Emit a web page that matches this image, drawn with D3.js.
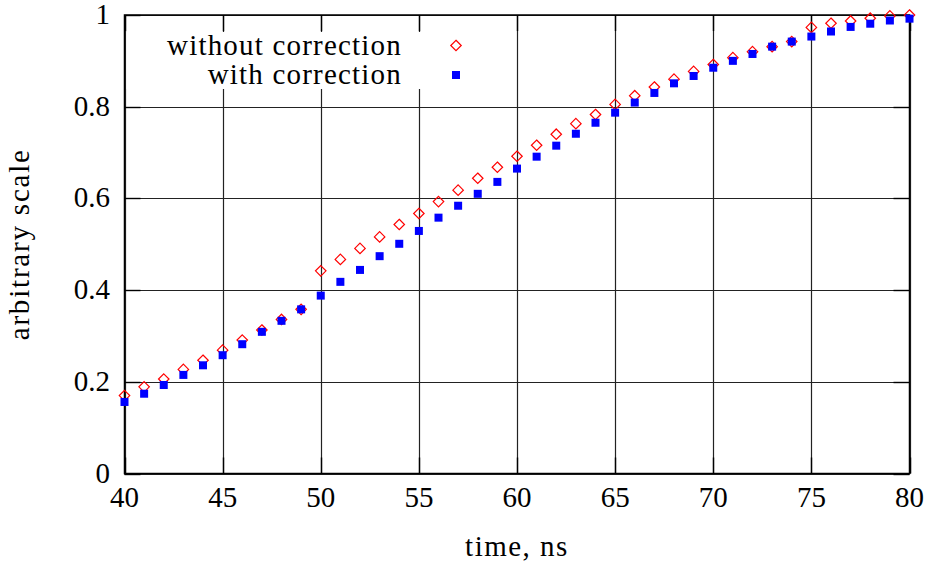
<!DOCTYPE html>
<html>
<head>
<meta charset="utf-8">
<script src="https://cdn.jsdelivr.net/npm/d3@7"></script>
<style>
  body { margin: 0; background: #fff; }
</style>
</head>
<body>
<div id="chart"></div>
<script>
// time, ns
var times = [40, 41, 42, 43, 44, 45, 46, 47, 48, 49, 50, 51, 52, 53, 54, 55, 56, 57, 58, 59,
             60, 61, 62, 63, 64, 65, 66, 67, 68, 69, 70, 71, 72, 73, 74, 75, 76, 77, 78, 79, 80];

var withoutCorrection = [0.170, 0.189, 0.206, 0.227, 0.247, 0.269, 0.291, 0.313, 0.336, 0.358,
                         0.442, 0.467, 0.491, 0.516, 0.543, 0.567, 0.593, 0.618, 0.644, 0.668,
                         0.692, 0.716, 0.740, 0.763, 0.783, 0.805, 0.824, 0.843, 0.860, 0.877,
                         0.892, 0.907, 0.920, 0.931, 0.942, 0.973, 0.982, 0.987, 0.993, 0.998, 1.000];

var withCorrection = [0.156, 0.174, 0.193, 0.215, 0.236, 0.258, 0.282, 0.309, 0.333, 0.358,
                      0.388, 0.418, 0.444, 0.474, 0.501, 0.529, 0.558, 0.584, 0.610, 0.636,
                      0.665, 0.691, 0.715, 0.741, 0.765, 0.787, 0.809, 0.830, 0.851, 0.867,
                      0.885, 0.900, 0.915, 0.931, 0.942, 0.953, 0.964, 0.974, 0.981, 0.988, 0.992];

var xTicks = [40, 45, 50, 55, 60, 65, 70, 75, 80];
var yTicks = [0, 0.2, 0.4, 0.6, 0.8, 1];

function draw() {
  var W = 935, H = 568;
  var pLeft = 124.5, pRight = 909.5, pTop = 15, pBottom = 473.5;
  var serif = "'Liberation Serif'";
  var fs = "29px";

  var svg = d3.select("#chart").append("svg")
    .attr("width", W)
    .attr("height", H);

  var x = d3.scaleLinear().domain([40, 80]).range([pLeft, pRight]);
  var y = d3.scaleLinear().domain([0, 1]).range([pBottom, pTop]);

  // grid
  var grid = svg.append("g");
  grid.selectAll(".vg").data(xTicks).enter().append("line")
    .attr("x1", d => Math.round(x(d)) + 0.5).attr("x2", d => Math.round(x(d)) + 0.5)
    .attr("y1", pTop).attr("y2", pBottom)
    .attr("stroke", "#222").attr("stroke-width", 1.2);
  grid.selectAll(".hg").data(yTicks).enter().append("line")
    .attr("y1", d => Math.round(y(d)) + 0.5).attr("y2", d => Math.round(y(d)) + 0.5)
    .attr("x1", pLeft).attr("x2", pRight)
    .attr("stroke", "#222").attr("stroke-width", 1.2);

  // key background hides grid
  svg.append("rect")
    .attr("x", pLeft + 2).attr("y", 32)
    .attr("width", 360).attr("height", 57)
    .attr("fill", "#fff");

  // tick marks (inward on all four sides)
  var tl = 16;
  var ticks = svg.append("g").attr("stroke", "#000").attr("stroke-width", 1.4);
  xTicks.forEach(function(d) {
    var px = Math.round(x(d)) + 0.5;
    ticks.append("line").attr("x1", px).attr("x2", px).attr("y1", pBottom).attr("y2", pBottom - tl);
    ticks.append("line").attr("x1", px).attr("x2", px).attr("y1", pTop).attr("y2", pTop + tl);
  });
  yTicks.forEach(function(d) {
    var py = Math.round(y(d)) + 0.5;
    ticks.append("line").attr("y1", py).attr("y2", py).attr("x1", pLeft).attr("x2", pLeft + tl);
    ticks.append("line").attr("y1", py).attr("y2", py).attr("x1", pRight).attr("x2", pRight - tl);
  });

  // border
  svg.append("rect")
    .attr("x", pLeft).attr("y", pTop)
    .attr("width", pRight - pLeft).attr("height", pBottom - pTop)
    .attr("fill", "none").attr("stroke", "#000").attr("stroke-width", 1.5);

  // tick labels
  svg.append("g").selectAll("text").data(xTicks).enter().append("text")
    .attr("x", d => x(d)).attr("y", 507)
    .attr("text-anchor", "middle")
    .style("font-family", serif).style("font-size", fs)
    .text(d => d);
  svg.append("g").selectAll("text").data(yTicks).enter().append("text")
    .attr("x", 110).attr("y", d => y(d) + 9)
    .attr("text-anchor", "end")
    .style("font-family", serif).style("font-size", fs)
    .text(d => d);

  // axis titles
  svg.append("text")
    .attr("x", x(60)).attr("y", 556)
    .attr("text-anchor", "middle")
    .style("font-family", serif).style("font-size", fs).style("letter-spacing", "1.5px")
    .text("time, ns");
  svg.append("text")
    .attr("transform", "translate(29," + y(0.5) + ") rotate(-90)")
    .attr("text-anchor", "middle")
    .style("font-family", serif).style("font-size", fs).style("letter-spacing", "1.8px")
    .text("arbitrary scale");

  // markers
  var diamond = d3.symbol().type(d3.symbolDiamond2).size(70);
  svg.append("g").selectAll("path").data(times).enter().append("path")
    .attr("d", diamond)
    .attr("transform", (d, i) => "translate(" + x(d) + "," + y(withoutCorrection[i]) + ")")
    .attr("fill", "none").attr("stroke", "#ff0000").attr("stroke-width", 1.2);

  var sq = 8;
  svg.append("g").selectAll("rect").data(times).enter().append("rect")
    .attr("x", d => x(d) - sq / 2)
    .attr("y", (d, i) => y(withCorrection[i]) - sq / 2)
    .attr("width", sq).attr("height", sq)
    .attr("fill", "#0000ff");

  // legend
  var legend = [
    { label: "without correction", yy: 46 },
    { label: "with correction", yy: 75 }
  ];
  svg.append("g").selectAll("text").data(legend).enter().append("text")
    .attr("x", 402).attr("y", d => d.yy + 9)
    .attr("text-anchor", "end")
    .style("font-family", serif).style("font-size", fs).style("letter-spacing", "1.2px")
    .text(d => d.label);
  svg.append("path")
    .attr("d", diamond)
    .attr("transform", "translate(456,45.5)")
    .attr("fill", "none").attr("stroke", "#ff0000").attr("stroke-width", 1.2);
  svg.append("rect")
    .attr("x", 456 - sq / 2).attr("y", 75 - sq / 2)
    .attr("width", sq).attr("height", sq)
    .attr("fill", "#0000ff");
}

draw();
</script>
</body>
</html>
